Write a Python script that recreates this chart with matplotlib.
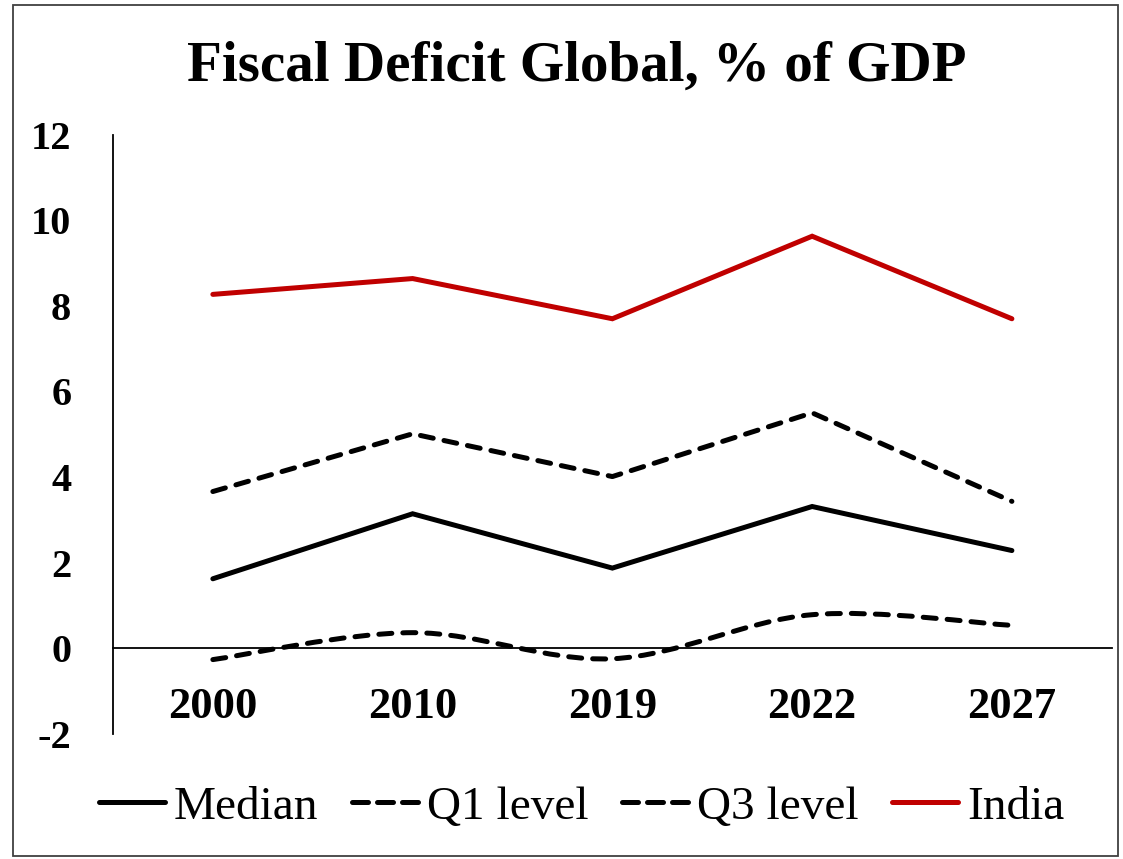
import numpy as np
import matplotlib
matplotlib.use("Agg")
import matplotlib.pyplot as plt
from matplotlib.path import Path
from matplotlib.patches import PathPatch, Rectangle
from matplotlib.lines import Line2D

# Fiscal deficit, % of GDP
years = ['2000', '2010', '2019', '2022', '2027']
median = [1.62, 3.14, 1.87, 3.31, 2.28]
q1_level = [3.66, 5.01, 4.01, 5.50, 3.43]
q3_level = [-0.27, 0.36, -0.25, 0.78, 0.53]
india = [8.27, 8.64, 7.70, 9.63, 7.70]

plt.rcParams['axes.unicode_minus'] = False
serif = 'Liberation Serif'
dash = (0, (2.6, 2.2))
legend_dash = (0, (3.2, 1.8))
lw = 3.6


def smooth_path(xs, ys):
    # Excel-style smoothed line: cubic Bezier segments through each point
    pts = np.column_stack([xs, ys]).astype(float)
    n = len(pts)
    verts = [pts[0]]
    codes = [Path.MOVETO]
    for i in range(n - 1):
        p0 = pts[max(i - 1, 0)]
        p1 = pts[i]
        p2 = pts[i + 1]
        p3 = pts[min(i + 2, n - 1)]
        c1 = p1 + (p2 - p0) / 6.0
        c2 = p2 - (p3 - p1) / 6.0
        verts += [c1, c2, p2]
        codes += [Path.CURVE4] * 3
    return Path(verts, codes)


fig = plt.figure(figsize=(11.23, 8.59), dpi=100)
ax = fig.add_axes([0.1006, 0.146, 0.8894, 0.697])

x = np.arange(len(years))
ax.plot(x, median, color='black', lw=lw, solid_capstyle='round', solid_joinstyle='miter')
ax.plot(x, q1_level, color='black', lw=lw, linestyle=dash, dash_capstyle='round')
ax.add_patch(PathPatch(smooth_path(x, q3_level), facecolor='none', edgecolor='black',
                       lw=lw, linestyle=dash, capstyle='round'))
ax.plot(x, india, color='#C00000', lw=lw, solid_capstyle='round', solid_joinstyle='miter')

ax.set_xlim(-0.5, len(years) - 0.5)
ax.set_ylim(-2, 12)
ax.set_yticks(range(-2, 13, 2))
ax.set_xticks(x)
ax.set_xticklabels(years)

ax.spines['top'].set_visible(False)
ax.spines['right'].set_visible(False)
ax.spines['bottom'].set_position(('data', 0))
ax.spines['bottom'].set_linewidth(1.3)
ax.spines['left'].set_linewidth(1.3)
ax.tick_params(axis='y', length=0, pad=30)
ax.tick_params(axis='x', length=0, pad=28)
for lab in ax.get_yticklabels():
    lab.set_fontfamily(serif)
    lab.set_fontweight('bold')
    lab.set_fontsize(29)
for lab in ax.get_xticklabels():
    lab.set_fontfamily(serif)
    lab.set_fontweight('bold')
    lab.set_fontsize(32)

fig.text(0.514, 0.922, 'Fiscal Deficit Global, % of GDP', ha='center', va='center',
         fontsize=41, fontweight='bold', family=serif)

handles = [
    Line2D([], [], color='black', lw=lw, solid_capstyle='round'),
    Line2D([], [], color='black', lw=lw, linestyle=legend_dash, dash_capstyle='round'),
    Line2D([], [], color='black', lw=lw, linestyle=legend_dash, dash_capstyle='round'),
    Line2D([], [], color='#C00000', lw=lw, solid_capstyle='round'),
]
fig.legend(handles, ['Median', 'Q1 level', 'Q3 level', 'India'], loc='center',
           bbox_to_anchor=(0.518, 0.06), ncol=4, frameon=False,
           prop={'family': serif, 'size': 34}, handlelength=1.4,
           handletextpad=0.2, columnspacing=0.7)

# thin frame round the whole chart
fig.patches.append(Rectangle((13 / 1123, 3 / 859), 1105 / 1123, 851 / 859,
                             transform=fig.transFigure, fill=False,
                             edgecolor='#404040', lw=1.3))

fig.savefig('out.png', dpi=100)
